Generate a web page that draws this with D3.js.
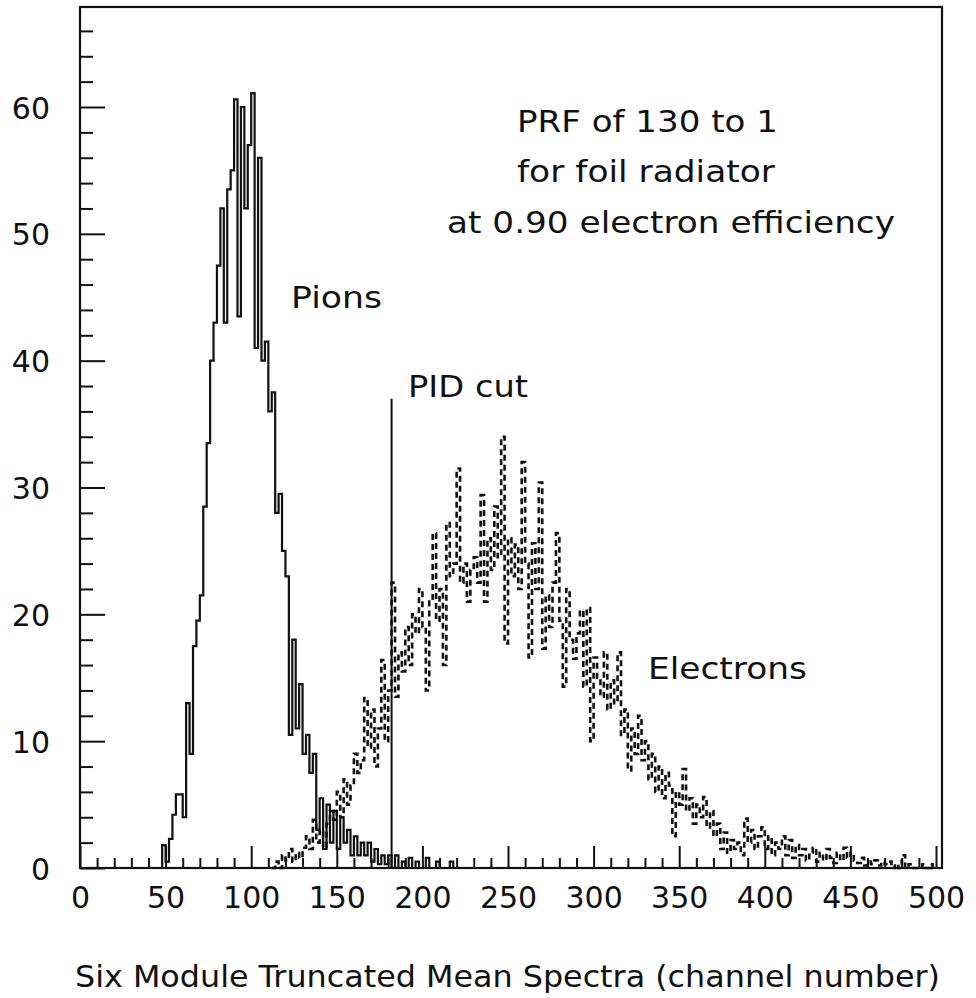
<!DOCTYPE html>
<html>
<head>
<meta charset="utf-8">
<script src="https://cdn.jsdelivr.net/npm/d3@7"></script>
<style>
html,body{margin:0;padding:0;background:#fff;}
svg{display:block;}
text{font-family:"DejaVu Sans","Noto Sans",sans-serif;fill:#111;}
</style>
</head>
<body>
<svg id="chart" width="976" height="998"></svg>
<script>
// ---- data ----
const binWidth = 2;
const pionStart = 48;   // first channel of pion histogram
const pionCounts = [
  1.8, 0.5, 2.3, 4.2, 5.8, 5.8, 4.0, 13.0, 9.0, 17.5,
  19.5, 21.5, 28.5, 33.5, 40.0, 43.0, 47.5, 52.0, 43.0, 53.5,
  55.0, 60.6, 43.5, 60.0, 52.0, 57.0, 61.1, 41.0, 56.0, 40.0,
  41.5, 36.0, 37.5, 28.0, 29.5, 25.0, 23.0, 10.5, 18.0, 11.0,
  14.5, 9.0, 10.5, 7.5, 9.0, 3.0, 5.5, 1.5, 5.0, 2.0,
  4.5, 1.5, 4.0, 2.0, 3.0, 1.0, 2.5, 1.0, 2.0, 1.0,
  2.0, 0.5, 1.5, 0.3, 1.0, 0.3, 1.0, 0.0, 1.0, 0.0,
  0.5, 0.0, 0.8, 0.0, 0.5, 0.0, 0.0, 0.8, 0.0, 0.0,
  0.5, 0.0, 0.0, 0.0, 0.5, 0.0, 0.0
];
const electronStart = 112;
const electronCounts = [
  0, 0.5, 0, 1, 0.6, 1.5, 0.5, 1.2, 0.8, 1.6,
  2.5, 1.5, 3.8, 2, 3, 1.6, 3.5, 4.5, 3.8, 6,
  4, 7, 5, 6.5, 9, 7.5, 8.5, 13.4, 9.5, 12.5,
  8, 11, 16.4, 10, 14, 22.5, 13.5, 17, 15.5, 19,
  16, 20, 18.5, 22, 19, 14, 21, 26.4, 19.5, 22,
  16, 27.2, 23, 24, 31.5, 22.5, 24, 21, 23.5, 24.5,
  22.5, 29.4, 21, 26, 23.5, 28.5, 24.5, 34, 17.7, 26,
  23, 25.5, 22, 32, 24, 16.6, 25.6, 22, 30.4, 17.3,
  21.5, 19, 22.5, 26.4, 19.5, 14.3, 22, 18, 16.5, 18.5,
  20.3, 14.3, 20.5, 10, 16.6, 15, 13.5, 17, 12.5, 14.8,
  13, 17, 10.5, 12.5, 7.7, 11, 9, 12, 8.5, 10,
  7, 9, 6, 8, 5.5, 7.5, 6.5, 2.5, 6, 5,
  7.8, 4.5, 5.5, 3.5, 5, 4, 5.6, 3.2, 4.5, 2.5,
  3.5, 1.5, 2.8, 1.2, 2.2, 1.5, 2, 1, 3.9, 2,
  3, 1.5, 2.5, 3.2, 1.5, 2.5, 1, 2, 1.5, 2.5,
  1, 2.2, 0.8, 1.8, 1, 1.5, 0.6, 1.2, 1.6, 0.5,
  1.2, 0.6, 1.5, 0.8, 0.4, 1.2, 0.6, 1.6, 0.8, 1.2,
  0.6, 0.4, 0.8, 0.2, 0.5, 0.3, 0.6, 0.2, 0.5, 0.3,
  0.5, 0, 0.3, 0, 1, 0, 0.3, 0, 0, 0,
  0.3, 0, 0.3, 0
];
const xMajorTicks = [0, 50, 100, 150, 200, 250, 300, 350, 400, 450, 500];
const yMajorTicks = [0, 10, 20, 30, 40, 50, 60];
const pidCut = {channel: 182, height: 37};
const xTitle = "Six Module Truncated Mean Spectra (channel number)";
const noteLines = ["PRF of 130 to 1", "for foil radiator", "at 0.90 electron efficiency"];
const labelPions = "Pions", labelPID = "PID cut", labelElectrons = "Electrons";

// ---- layout ----
const svg = d3.select("#chart");
const x = d3.scaleLinear().domain([0, 500]).range([80, 936]);
const y = d3.scaleLinear().domain([0, 60]).range([868, 107]);
const xMax = x.invert(942), yMax = y.invert(7);
const FS = 30;

function histPoints(start, counts) {
  const pts = [[start, 0]];
  counts.forEach((c, i) => pts.push([start + i * binWidth, c]));
  const end = start + counts.length * binWidth;
  pts.push([end, counts[counts.length - 1]]);
  pts.push([end, 0]);
  return pts;
}
const stepLine = d3.line().x(d => x(d[0])).y(d => y(d[1])).curve(d3.curveStepAfter);

// histograms
svg.append("path")
  .attr("d", stepLine(histPoints(electronStart, electronCounts)))
  .attr("fill", "none").attr("stroke", "#111").attr("stroke-width", 2.6)
  .attr("stroke-dasharray", "6,4");
svg.append("path")
  .attr("d", stepLine(histPoints(pionStart, pionCounts)))
  .attr("fill", "none").attr("stroke", "#111").attr("stroke-width", 2.2);

// PID cut line
svg.append("line")
  .attr("x1", x(pidCut.channel)).attr("x2", x(pidCut.channel))
  .attr("y1", y(0)).attr("y2", y(pidCut.height))
  .attr("stroke", "#111").attr("stroke-width", 2);

// axes: minor ticks
const xMinor = d3.axisBottom(x).tickValues(d3.range(0, 501, 10).filter(v => v % 50 !== 0))
  .tickSize(-10).tickFormat("");
svg.append("g").attr("transform", `translate(0,${y(0)})`).call(xMinor)
  .call(g => g.select(".domain").remove())
  .call(g => g.selectAll("line").attr("stroke", "#111").attr("stroke-width", 2));
const yMinor = d3.axisLeft(y).tickValues(d3.range(0, 67, 2).filter(v => v % 10 !== 0))
  .tickSize(-13).tickFormat("");
svg.append("g").attr("transform", `translate(${x(0)},0)`).call(yMinor)
  .call(g => g.select(".domain").remove())
  .call(g => g.selectAll("line").attr("stroke", "#111").attr("stroke-width", 2));

// axes: major ticks + labels
const xAxis = d3.axisBottom(x).tickValues(xMajorTicks).tickSize(-22).tickFormat(d3.format("d"));
svg.append("g").attr("transform", `translate(0,${y(0)})`).call(xAxis)
  .call(g => g.select(".domain").remove())
  .call(g => g.selectAll("line").attr("stroke", "#111").attr("stroke-width", 2))
  .call(g => g.selectAll("text").attr("y", 40).attr("dy", 0)
    .style("font-size", FS + "px").style("font-family", "DejaVu Sans").attr("fill", "#111"));
const yAxis = d3.axisLeft(y).tickValues(yMajorTicks).tickSize(-25).tickFormat(d3.format("d"));
svg.append("g").attr("transform", `translate(${x(0)},0)`).call(yAxis)
  .call(g => g.select(".domain").remove())
  .call(g => g.selectAll("line").attr("stroke", "#111").attr("stroke-width", 2))
  .call(g => g.selectAll("text").attr("x", -30).attr("dy", "0.37em")
    .style("font-size", FS + "px").style("font-family", "DejaVu Sans").attr("fill", "#111"));

// frame
svg.append("rect")
  .attr("x", x(0)).attr("y", y(yMax))
  .attr("width", x(xMax) - x(0)).attr("height", y(0) - y(yMax))
  .attr("fill", "none").attr("stroke", "#111").attr("stroke-width", 2.2);

// texts
function txt(s, px, py, len) {
  const t = svg.append("text").attr("x", px).attr("y", py)
    .style("font-size", FS + "px").text(s);
  if (len) t.attr("textLength", len).attr("lengthAdjust", "spacingAndGlyphs");
  return t;
}
txt(noteLines[0], 517, 132, 261);
txt(noteLines[1], 517, 182, 258);
txt(noteLines[2], 447, 233, 448);
txt(labelPions, 291, 308, 91);
txt(labelPID, 408, 397, 120);
txt(labelElectrons, 648, 679, 159);
txt(xTitle, 75, 987, 865);
</script>
</body>
</html>
